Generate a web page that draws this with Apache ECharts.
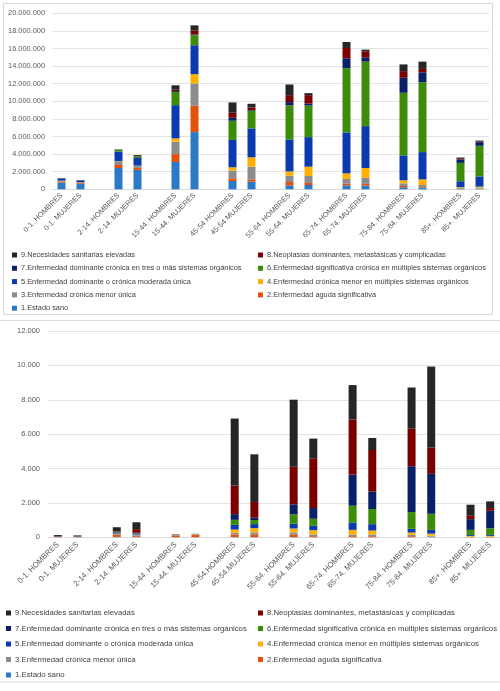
<!DOCTYPE html>
<html>
<head>
<meta charset="utf-8">
<script src="https://cdn.jsdelivr.net/npm/echarts@6/dist/echarts.min.js"></script>
<style>
html,body{margin:0;padding:0;background:#fff;}
#c{width:500px;height:691px;}
</style>
</head>
<body>
<div id="c"></div>
<script>
// ---------- DATA ----------
const groupsTop = ["0-1. HOMBRES","0-1. MUJERES","2-14. HOMBRES","2-14. MUJERES","15-44. HOMBRES","15-44. MUJERES","45-54 HOMBRES","45-54 MUJERES","55-64. HOMBRES","55-64. MUJERES","65-74. HOMBRES","65-74. MUJERES","75-84. HOMBRES","75-84. MUJERES","85+. HOMBRES","85+. MUJERES"];
const groupsBottom = ["0-1. HOMBRES","0-1. MUJERES","2-14. HOMBRES","2-14. MUJERES","15-44. HOMBRES","15-44. MUJERES","45-54.HOMBRES","45-54.MUJERES","55-64. HOMBRES","55-64. MUJERES","65-74. HOMBRES","65-74. MUJERES","75-84. HOMBRES","75-84. MUJERES","85+. HOMBRES","85+. MUJERES"];
const seriesNames = ["1.Estado sano","2.Enfermedad aguda significativa","3.Enfermedad crónica menor única","4.Enfermedad crónica menor en múltiples sistemas orgánicos","5.Enfermedad dominante o crónica moderada única","6.Enfermedad significativa crónica en múltiples sistemas orgánicos","7.Enfermedad dominante crónica en tres o más sistemas orgánicos","8.Neoplasias dominantes, metastásicas y complicadas","9.Necesidades sanitarias elevadas"];

// Top chart (values)
const top1 = [750000,600000,2420000,2200000,3100000,6500000,950000,870000,450000,490000,450000,420000,230000,150000,80000,60000];
const top2 = [120000,100000,340000,230000,900000,3020000,300000,260000,380000,230000,190000,190000,150000,80000,30000,40000];
const top3 = [80000,80000,380000,230000,1400000,2500000,870000,1440000,720000,790000,530000,680000,300000,260000,50000,80000];
const top4 = [30000,20000,50000,30000,380000,1060000,380000,1060000,490000,1060000,640000,1130000,340000,640000,80000,120000];
const top5 = [200000,150000,1100000,870000,3780000,3290000,3100000,3290000,3630000,3360000,4650000,4760000,2840000,3100000,680000,1170000];
const top6 = [20000,10000,190000,150000,1510000,1130000,2190000,2000000,3860000,3590000,7300000,7330000,7110000,7940000,2080000,3470000];
const top7 = [50000,50000,20000,50000,100000,80000,340000,80000,380000,230000,1130000,490000,1700000,1130000,380000,420000];
const top8 = [10000,10000,10000,40000,150000,450000,570000,300000,790000,950000,1170000,680000,760000,380000,80000,60000];
const top9 = [20000,40000,30000,100000,500000,600000,1170000,420000,1210000,230000,680000,190000,760000,830000,150000,120000];

// Bottom chart (values)
const bot1 = [5,5,20,30,10,10,20,15,15,10,10,10,10,10,5,5];
const bot2 = [15,15,140,60,100,120,140,130,150,55,55,55,55,35,18,18];
const bot3 = [5,5,30,50,40,30,95,135,115,95,75,95,75,55,18,18];
const bot4 = [3,3,20,20,10,20,195,254,234,254,293,234,137,117,39,39];
const bot5 = [5,3,35,50,5,5,273,234,273,254,410,371,215,215,59,59];
const bot6 = [2,2,40,15,2,2,293,234,546,410,995,878,976,937,293,390];
const bot7 = [10,8,40,40,2,2,332,137,585,624,1815,1015,2667,2322,624,1015];
const bot8 = [15,10,30,210,2,2,1658,917,2185,2868,3200,2420,2181,1538,195,156];
const bot9 = [70,60,230,400,15,10,3902,2771,3902,1171,2000,700,2398,4702,644,390];

const topTicksMax = 20000000, topTickStep = 2000000;
const botTicksMax = 12000, botTickStep = 2000;

// ---------- BUILD ----------
const colors = ['#2A7AC8','#E5500A','#8C8C8C','#FFB000','#0B3AAE','#3C8C0A','#0A2066','#7A0000','#262626'];
const topData = [top1,top2,top3,top4,top5,top6,top7,top8,top9];
const botData = [bot1,bot2,bot3,bot4,bot5,bot6,bot7,bot8,bot9];

function withGaps(arr, filler){
  const out=[];
  for(let i=0;i<arr.length;i+=2){
    out.push(arr[i], arr[i+1]);
    if(i+2<arr.length) out.push(filler);
  }
  return out;
}
const catsTop = withGaps(groupsTop,'');
const catsBot = withGaps(groupsBottom,'');

// font detection
const cv=document.createElement('canvas').getContext('2d');
function w(f){cv.font='100px '+f;return cv.measureText('Enfermedad dominante 0123').width;}
const hasNarrow = w("'Liberation Sans Narrow', monospace") !== w('monospace');
const FAM = hasNarrow ? "'Liberation Sans Narrow', 'Liberation Sans', sans-serif" : "'Liberation Sans', sans-serif";
function sizeFor(text,target){cv.font='100px '+FAM;return 100*target/cv.measureText(text).width;}
const longTxt = seriesNames[6];
const topLegSize = sizeFor(longTxt,221);
const botLegSize = sizeFor(longTxt,232);
const fmt = v => String(v).replace(/\B(?=(\d{3})+(?!\d))/g,'.');
const topYSize = sizeFor('20.000.000',37);
const botYSize = sizeFor('12.000',23);
const topXSize = sizeFor('0-1. HOMBRES',52);
const botXSize = sizeFor('0-1. HOMBRES',55);

const series=[];
for(let k=0;k<9;k++){
  series.push({name:seriesNames[k],type:'bar',stack:'t',xAxisIndex:0,yAxisIndex:0,barWidth:8,
    itemStyle:{color:colors[k]},data:withGaps(topData[k],null),emphasis:{disabled:true}});
}
for(let k=0;k<9;k++){
  series.push({name:seriesNames[k],type:'bar',stack:'b',xAxisIndex:1,yAxisIndex:1,barWidth:8,
    itemStyle:{color:colors[k]},data:withGaps(botData[k],null),emphasis:{disabled:true}});
}

function legend(names,left,top,size,gap,lh){
  return {orient:'vertical',left:left,top:top,data:names,icon:'rect',itemWidth:5,itemHeight:5,
    itemGap:gap,selectedMode:false,padding:0,
    textStyle:{fontFamily:FAM,fontSize:size,color:'#404040',lineHeight:lh,padding:[0,0,0,-1]}};
}
const col1=[seriesNames[8],seriesNames[6],seriesNames[4],seriesNames[2],seriesNames[0]];
const col2=[seriesNames[7],seriesNames[5],seriesNames[3],seriesNames[1]];

const axisLabelColor='#595959';
const option={
  animation:false,
  color:colors,
  grid:[
    {left:52,top:13.3,width:437,height:176,containLabel:false},
    {left:48,top:331,width:453,height:206.3,containLabel:false}
  ],
  xAxis:[
    {type:'category',gridIndex:0,data:catsTop,axisTick:{show:false},axisLine:{lineStyle:{color:'#d9d9d9'}},
      axisLabel:{interval:0,rotate:45,fontFamily:FAM,fontSize:topXSize,color:axisLabelColor,margin:5}},
    {type:'category',gridIndex:1,data:catsBot,axisTick:{show:false},axisLine:{lineStyle:{color:'#d9d9d9'}},
      axisLabel:{interval:0,rotate:45,fontFamily:FAM,fontSize:botXSize,color:axisLabelColor,margin:6}}
  ],
  yAxis:[
    {type:'value',gridIndex:0,min:0,max:topTicksMax,interval:topTickStep,
      axisLabel:{formatter:fmt,fontFamily:FAM,fontSize:topYSize,color:axisLabelColor,margin:7},
      splitLine:{lineStyle:{color:'#e3e3e3'}},axisLine:{show:false},axisTick:{show:false}},
    {type:'value',gridIndex:1,min:0,max:botTicksMax,interval:botTickStep,
      axisLabel:{formatter:fmt,fontFamily:FAM,fontSize:botYSize,color:axisLabelColor,margin:8},
      splitLine:{lineStyle:{color:'#e3e3e3'}},axisLine:{show:false},axisTick:{show:false}}
  ],
  legend:[
    legend(col1,12,250,topLegSize,3.3,10),
    legend(col2,258,250,topLegSize,3.3,10),
    legend(col1,6,607.5,botLegSize,4.5,11),
    legend(col2,258,607.5,botLegSize,4.5,11)
  ],
  graphic:[
    {type:'rect',silent:true,shape:{x:3.5,y:3.5,width:489,height:311},style:{fill:'none',stroke:'#d9d9d9',lineWidth:1}},
    {type:'rect',silent:true,shape:{x:-2,y:320.5,width:504,height:361.5},style:{fill:'none',stroke:'#d9d9d9',lineWidth:1}}
  ],
  series:series
};
const chart=echarts.init(document.getElementById('c'),null,{renderer:'canvas'});
chart.setOption(option);
</script>
</body>
</html>
